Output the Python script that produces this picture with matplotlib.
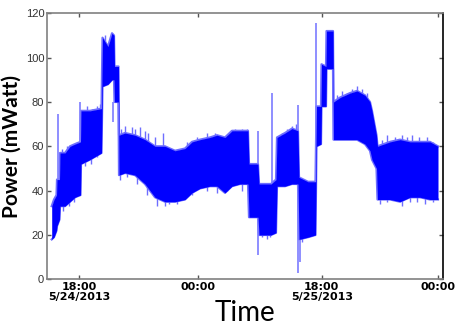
import matplotlib
matplotlib.use("Agg")
import matplotlib.pyplot as plt
import numpy as np

# sample position (axis units), lower and upper envelope of the power signal (mWatt)
pos = [4.7, 7, 9.5, 10, 12.5, 13, 18, 23, 28, 33.5, 34, 43, 54.5, 55.5, 61, 65, 67,
       67.5, 71.5, 72, 78, 88, 98, 108, 118, 128, 138, 145, 153, 163, 170, 178, 185,
       193, 201, 202, 211, 212, 224, 229, 230, 238, 245, 251, 252, 261, 268.5, 269.5,
       274, 274.5, 279, 279.5, 286, 286.5, 293, 303, 310, 318, 323, 325, 329.5, 330.5,
       343, 353, 363, 373, 383, 391]
low = [18, 19, 22, 24, 27, 33, 33, 35, 37, 38, 52, 54, 57, 87, 88, 90, 90,
       80, 80, 47, 48, 47, 43, 37, 35, 35, 36, 39, 41, 42, 42, 39, 42,
       43, 43, 28, 28, 20, 20, 21, 42, 42, 43, 43, 18, 19, 20, 60,
       61, 78, 78, 95, 95, 63, 63, 63, 63, 61, 58, 54, 50, 36,
       36, 35, 37, 37, 36, 36]
high = [33, 36, 38, 45, 45, 57, 57, 60, 61, 62, 76, 76, 77, 109, 105, 111, 110,
        96, 96, 65, 66, 65, 63, 60, 60, 58, 59, 62, 63, 64, 65, 64, 67,
        67, 67, 52, 52, 43, 43, 45, 64, 66, 68, 67, 46, 44, 44, 78,
        78, 97, 96, 112, 112, 80, 82, 84, 85, 83, 80, 76, 65, 60,
        62, 63, 62, 62, 62, 60]

# isolated spikes: position, min, max
spike_pos = [10.7, 33, 66, 211.3, 224.7, 251.3, 253, 269]
spike_lo = [45, 62, 71, 11, 43, 2.8, 8, 44]
spike_hi = [74.5, 80, 80, 67, 84, 78.6, 46, 115.5]

# small fringe tips above the upper envelope and below the lower envelope
up_tip_pos = [15, 20, 26, 30, 40, 45, 50, 53, 58, 62, 74, 78, 84.7, 88, 93, 98, 101,
              108, 116, 140, 150, 160, 168, 180, 188, 195, 200, 235, 240, 245, 249,
              290, 295, 300, 305, 310, 315, 320, 335, 340, 348, 355, 360, 365, 372,
              380, 386]
up_tip_val = [59, 60, 61, 62, 78, 77, 78, 79, 110, 107, 68, 69, 68.6, 68, 68.6, 67, 66,
              64, 66, 62, 64, 66, 66, 65, 68, 68, 68, 66, 68, 69, 70,
              83, 85, 84, 86, 87, 86, 84, 63, 65, 64, 65, 64, 65, 64,
              64, 62]
lo_tip_pos = [16, 22, 27, 38, 44, 50, 73, 80, 90, 100, 110, 118, 122, 130, 145, 160,
              170, 180, 195, 215, 220, 223, 255, 260, 265, 333, 340, 348, 355, 363,
              370, 378, 386]
lo_tip_val = [31, 33, 35, 51, 52, 55, 45, 46, 43, 38, 33, 33, 34, 34, 38, 40,
              39, 40, 40, 19, 18, 19, 17, 19, 20, 34, 35, 36, 33, 35,
              35, 34, 35]

tick_pos = [32, 151, 274.7, 391]
tick_labels = ["18:00\n5/24/2013", "00:00", "18:00\n5/25/2013", "00:00"]
yticks = [0, 20, 40, 60, 80, 100, 120]

fig = plt.figure(figsize=(4.57, 3.25), dpi=100)
ax = fig.add_axes([47/457, 1 - 279.3/325, (443-47)/457, (279.3-13.3)/325])

fringe = "#6E6EFF"
ax.plot(pos, high, color=fringe, lw=1.6, zorder=1)
ax.plot(pos, low, color=fringe, lw=1.6, zorder=1)
ax.vlines(up_tip_pos, np.interp(up_tip_pos, pos, high) - 2, up_tip_val,
          color=fringe, lw=1.0, zorder=1)
ax.vlines(lo_tip_pos, lo_tip_val, np.interp(lo_tip_pos, pos, low) + 2,
          color=fringe, lw=1.0, zorder=1)
ax.fill_between(pos, low, high, color="#0000FF", lw=0, zorder=2)
ax.vlines(spike_pos, spike_lo, spike_hi, color="#7B7BFF", lw=1.2, zorder=1)

ax.set_xlim(0, 396)
ax.set_ylim(0, 120)
ax.set_yticks(yticks)
ax.set_yticklabels([str(v) for v in yticks], fontsize=8, color="#333333",
                   family="Liberation Sans")
ax.set_xticks(tick_pos)
ax.set_xticklabels(tick_labels, fontsize=8, fontweight="bold", family="DejaVu Sans",
                   linespacing=0.95)
ax.tick_params(axis="both", direction="in", top=True, right=True, length=3,
               width=1, color="#555555", pad=2)
for s in ["left", "bottom", "top"]:
    ax.spines[s].set_color("#808080")
    ax.spines[s].set_linewidth(1.2)
ax.spines["right"].set_color("black")
ax.spines["right"].set_linewidth(1.2)

ax.set_xlabel("Time", fontsize=20, family="Lato", labelpad=-1)
ax.set_ylabel("Power (mWatt)", fontsize=15, fontweight="bold", family="Lato", labelpad=3)

fig.savefig("out.png", dpi=100)
